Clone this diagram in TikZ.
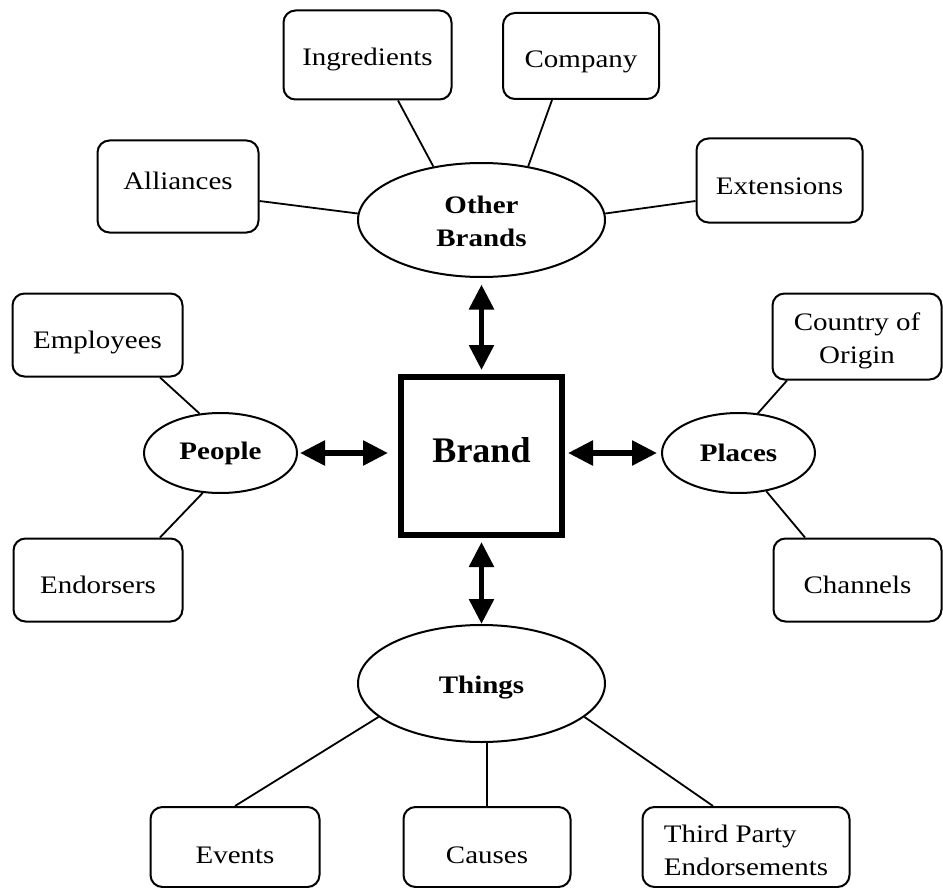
\documentclass[tikz,border=0pt]{standalone}
\usepackage{fontspec}
\setmainfont{Liberation Serif}[FakeStretch=1.15]
\newfontfamily\brandfont{Liberation Serif}
\usetikzlibrary{arrows.meta,shapes.geometric}
\begin{document}
\begin{tikzpicture}[x=0.5pt,y=-0.5pt,
  box/.style={draw,line width=1pt,rounded corners=6pt,inner sep=0pt,font=\fontsize{12.6}{16.5}\selectfont,text depth=2pt},
  oval/.style={draw,ellipse,line width=1pt,inner sep=0pt,font=\fontsize{12.6}{16.5}\selectfont\bfseries},
  link/.style={line width=0.9pt},
  bi/.style={{Triangle[length=12.5pt,width=12pt]}-{Triangle[length=12.5pt,width=12pt]},line width=2.8pt},
]
\useasboundingbox (0,0) rectangle (943,888);

% boxes
\node[box,minimum width=84pt,minimum height=44.5pt,text height=12.5pt] (ing) at (367.5,55) {Ingredients};
\node[box,minimum width=78pt,minimum height=43pt,text height=14pt] (comp) at (581,56) {Company};
\node[box,minimum width=80.5pt,minimum height=46pt,text height=5.5pt] (all) at (178,186.5) {Alliances};
\node[box,minimum width=83pt,minimum height=42pt,text height=16.5pt] (ext) at (779.5,180.5) {Extensions};
\node[box,minimum width=85pt,minimum height=41.5pt,text height=15pt] (emp) at (97.5,335) {Employees};
\node[box,minimum width=84.5pt,minimum height=41.5pt,text height=15pt] (endo) at (98,580) {Endorsers};
\node[box,align=center,minimum width=84.5pt,minimum height=43pt,text height=29.25pt,text depth=2.75pt] (coo) at (857,336.5) {Country of\\Origin};
\node[box,minimum width=84pt,minimum height=41.5pt,text height=15pt] (chan) at (857.5,580) {Channels};
\node[box,minimum width=84.5pt,minimum height=40pt,text height=18pt] (evt) at (235,847) {Events};
\node[box,minimum width=83.5pt,minimum height=40pt,text height=18pt] (cau) at (487,847) {Causes};
\node[box,align=left,minimum width=103.5pt,minimum height=40pt,text height=30.75pt,text depth=2.75pt] (tpe) at (746,847) {Third Party\\Endorsements};

% ellipses
\node[oval,align=center,minimum width=123.5pt,minimum height=57pt,text height=28.75pt,text depth=2.75pt] (ob) at (481.5,220) {Other\\Brands};
\node[oval,minimum width=76.5pt,minimum height=40pt] (ppl) at (220.5,453) {People};
\node[oval,minimum width=76.5pt,minimum height=40pt] (plc) at (738.5,453) {Places};
\node[oval,minimum width=123.5pt,minimum height=58.5pt,text height=12pt,text depth=2.5pt] (thg) at (481.5,683.5) {Things};

% central box
\node[draw,line width=3pt,minimum width=80.5pt,minimum height=79pt,inner sep=0pt,font=\brandfont\fontsize{18}{20}\selectfont\bfseries,text height=6.5pt,text depth=0pt] (brand) at (481.5,455.5) {Brand};

% connectors
\draw[link] ([xshift=15.25pt]ing.south) -- (ob.132);
\draw[link] ([xshift=-14.5pt]comp.south) -- (ob.49);
\draw[link] ([yshift=-7.25pt]all.east) -- (ob.177);
\draw[link] ([yshift=-10.25pt]ext.west) -- (ob.3);
\draw[link] ([xshift=31.25pt]emp.south) -- (ppl.118);
\draw[link] ([xshift=31pt]endo.north) -- (ppl.246);
\draw[link] ([xshift=-35pt]coo.south) -- (plc.64);
\draw[link] ([xshift=-26.25pt]chan.north) -- (plc.306);
\draw[link] (evt.north) -- (thg.198);
\draw[link] (cau.north) -- (cau.north |- thg.south);
\draw[link] ([xshift=-16.5pt]tpe.north) -- (thg.342);

% double arrows
\draw[bi,shorten <=3.25pt,shorten >=1.75pt] (ob.south) -- (brand.north);
\draw[bi,shorten <=2.25pt,shorten >=0pt] (brand.south) -- (thg.north);
\draw[bi,shorten <=1pt,shorten >=5pt] (ppl.east) -- (ppl.east -| brand.west);
\draw[bi,shorten <=1.5pt,shorten >=2pt] (brand.east |- plc.west) -- (plc.west);
\end{tikzpicture}
\end{document}
